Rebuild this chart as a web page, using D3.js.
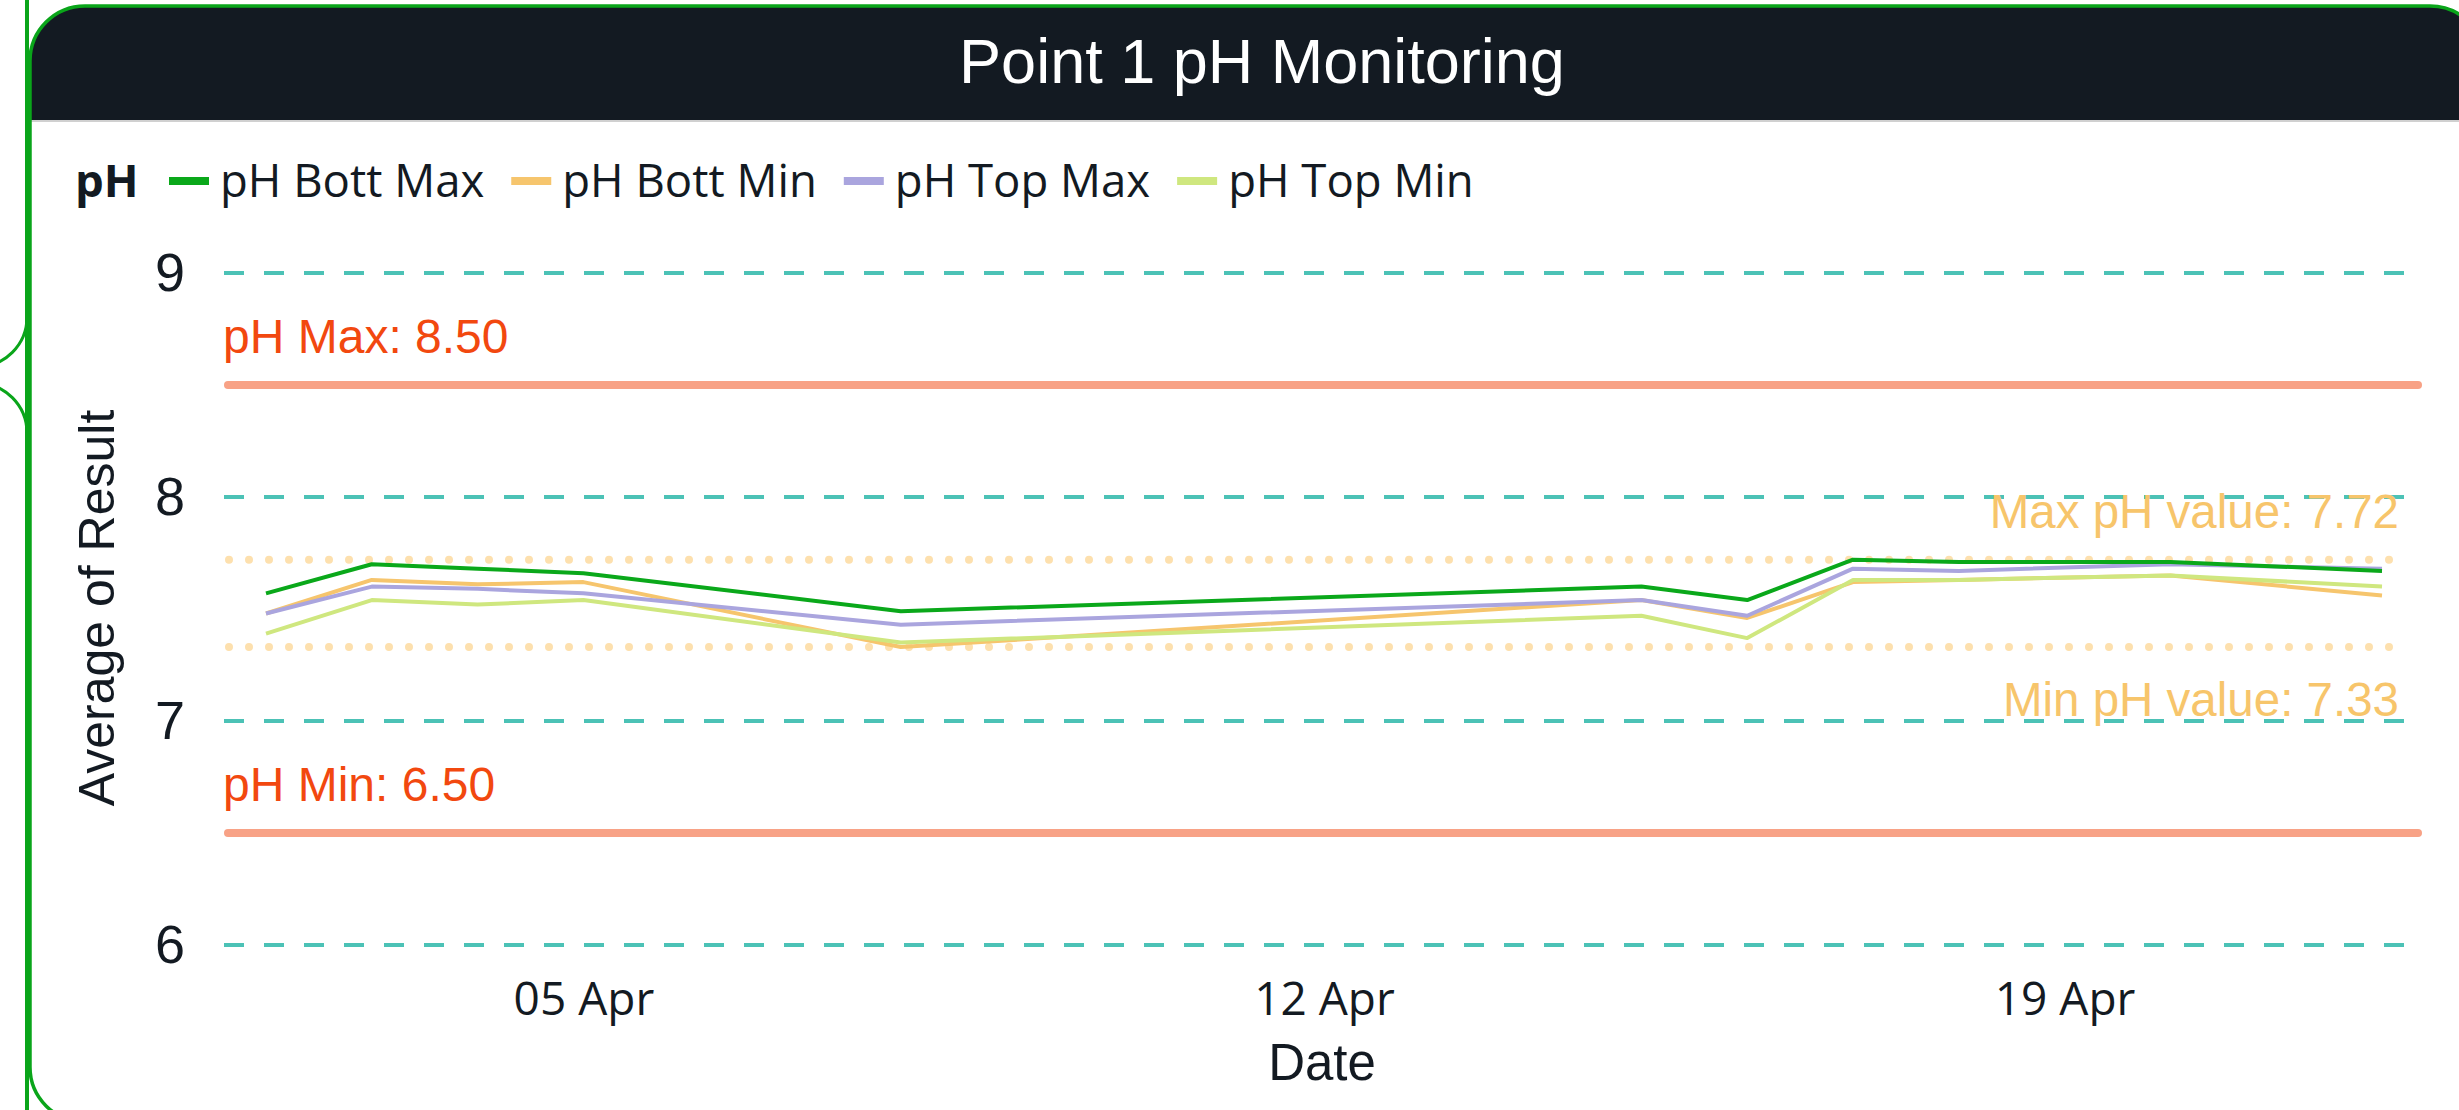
<!DOCTYPE html>
<html>
<head>
<meta charset="utf-8">
<script src="https://cdn.jsdelivr.net/npm/d3@7"></script>
<style>
  body { margin: 0; background: #fff; }
  svg { display: block; }
</style>
</head>
<body>
<script>
// sample dates
var dates = ['2024-04-02', '2024-04-03', '2024-04-04', '2024-04-05', '2024-04-08',
    '2024-04-15', '2024-04-16', '2024-04-17', '2024-04-18', '2024-04-20', '2024-04-22'];
// average of result per series
var bottMax = [7.57, 7.70, 7.68, 7.66, 7.49, 7.60, 7.54, 7.72, 7.71, 7.71, 7.67];
var bottMin = [7.48, 7.63, 7.61, 7.62, 7.33, 7.54, 7.46, 7.62, 7.63, 7.65, 7.56];
var topMax = [7.48, 7.60, 7.59, 7.57, 7.43, 7.54, 7.47, 7.68, 7.67, 7.70, 7.68];
var topMin = [7.39, 7.54, 7.52, 7.54, 7.35, 7.47, 7.37, 7.63, 7.63, 7.65, 7.60];

var seriesNames = ['pH Bott Max', 'pH Bott Min', 'pH Top Max', 'pH Top Min'];
var seriesColors = ['#0aa81a', '#f6c56d', '#aaa5de', '#cfe77f'];

var yTicks = [6, 7, 8, 9];
var xTicks = ['2024-04-05', '2024-04-12', '2024-04-19'];

// limits and observed extremes
var limitValues = [8.5, 6.5];
var limitLabels = ['pH Max: 8.50', 'pH Min: 6.50'];
var maxValue = 7.72;
var minValue = 7.33;

var svgWidth = 2459;
var svgHeight = 1110;
var plotLeft = 224;
var plotRight = 2405;
var green = '#0aa51a';

var parseDate = d3.timeParse('%Y-%m-%d');

var svg = d3.select('body').append('svg')
    .attr('width', svgWidth)
    .attr('height', svgHeight);

// neighbouring card edges on the left
svg.append('line')
    .attr('x1', 27).attr('x2', 27)
    .attr('y1', 0).attr('y2', svgHeight)
    .attr('stroke', green)
    .attr('stroke-width', 4);
svg.append('path')
    .attr('d', 'M27,317 A50,50 0 0 1 -23,367 M-23,383 A50,50 0 0 1 27,433')
    .attr('fill', 'none')
    .attr('stroke', green)
    .attr('stroke-width', 3);

// card + title bar
svg.append('rect')
    .attr('x', 30).attr('y', 6)
    .attr('width', 2455).attr('height', 1116)
    .attr('rx', 55)
    .attr('fill', '#fff');
svg.append('path')
    .attr('d', 'M30,120 V61 A55,55 0 0 1 85,6 H2430 A55,55 0 0 1 2485,61 V120 Z')
    .attr('fill', '#131a22');
svg.append('line')
    .attr('x1', 30).attr('x2', 2485)
    .attr('y1', 121).attr('y2', 121)
    .attr('stroke', '#d0d0d0')
    .attr('stroke-width', 2);
svg.append('rect')
    .attr('x', 30).attr('y', 6)
    .attr('width', 2455).attr('height', 1116)
    .attr('rx', 55)
    .attr('fill', 'none')
    .attr('stroke', green)
    .attr('stroke-width', 3.5);

svg.append('text')
    .attr('x', 1262)
    .attr('y', 83)
    .attr('text-anchor', 'middle')
    .attr('fill', '#fff')
    .style('font-family', 'Liberation Sans, Arial, sans-serif')
    .style('font-size', '63px')
    .text('Point 1 pH Monitoring');

// legend
var legend = svg.append('g')
    .style('font-family', 'Open Sans, sans-serif')
    .style('font-size', '45.5px')
    .attr('fill', '#131a22');
legend.append('text')
    .attr('x', 75).attr('y', 197)
    .style('font-weight', 'bold')
    .text('pH');
var lx = 169;
seriesNames.forEach(function(name, i) {
    legend.append('rect')
        .attr('x', lx).attr('y', 177)
        .attr('width', 40).attr('height', 8)
        .attr('fill', seriesColors[i]);
    var t = legend.append('text')
        .attr('x', lx + 51).attr('y', 197)
        .text(name);
    lx = lx + 51 + t.node().getComputedTextLength() + 27;
});

var xScale = d3.scaleTime()
    .domain([parseDate('2024-04-02'), parseDate('2024-04-22')])
    .range([266, 2382]);

var yScale = d3.scaleLinear()
    .domain([6, 9])
    .range([945, 273]);

// dashed gridlines
svg.append('g').selectAll('line')
    .data(yTicks)
    .enter()
    .append('line')
    .attr('x1', plotLeft).attr('x2', plotRight)
    .attr('y1', function(d) { return yScale(d); })
    .attr('y2', function(d) { return yScale(d); })
    .attr('stroke', '#4cc2b6')
    .attr('stroke-width', 4)
    .attr('stroke-dasharray', '20 20');

// y axis
var yAxis = d3.axisLeft(yScale)
    .tickValues(yTicks)
    .tickFormat(d3.format('d'))
    .tickSize(0)
    .tickPadding(39);
var yg = svg.append('g')
    .attr('transform', 'translate(' + plotLeft + ',0)')
    .call(yAxis);
yg.select('.domain').remove();
yg.selectAll('text')
    .attr('fill', '#131a22')
    .style('font-family', 'Liberation Sans, Arial, sans-serif')
    .style('font-size', '54px');

// x axis
var xAxis = d3.axisBottom(xScale)
    .tickValues(xTicks.map(parseDate))
    .tickFormat(d3.timeFormat('%d %b'))
    .tickSize(0)
    .tickPadding(37);
var xg = svg.append('g')
    .attr('transform', 'translate(0,' + yScale(6) + ')')
    .call(xAxis);
xg.select('.domain').remove();
xg.selectAll('text')
    .attr('fill', '#131a22')
    .style('font-family', 'Open Sans, sans-serif')
    .style('font-size', '46px');

svg.append('text')
    .attr('x', 1322)
    .attr('y', 1080)
    .attr('text-anchor', 'middle')
    .attr('fill', '#131a22')
    .style('font-family', 'Liberation Sans, Arial, sans-serif')
    .style('font-size', '51px')
    .text('Date');

svg.append('text')
    .attr('transform', 'translate(114,608) rotate(-90)')
    .attr('text-anchor', 'middle')
    .attr('fill', '#131a22')
    .style('font-family', 'Liberation Sans, Arial, sans-serif')
    .style('font-size', '50px')
    .text('Average of Result');

// pH limits
svg.append('g').selectAll('line')
    .data(limitValues)
    .enter()
    .append('line')
    .attr('x1', 228).attr('x2', 2418)
    .attr('y1', function(d) { return yScale(d); })
    .attr('y2', function(d) { return yScale(d); })
    .attr('stroke', '#f8a286')
    .attr('stroke-width', 8)
    .attr('stroke-linecap', 'round');
svg.append('g').selectAll('text')
    .data(limitValues)
    .enter()
    .append('text')
    .attr('x', 223)
    .attr('y', function(d) { return yScale(d) - 32; })
    .attr('fill', '#f2480f')
    .style('font-family', 'Liberation Sans, Arial, sans-serif')
    .style('font-size', '48px')
    .text(function(d, i) { return limitLabels[i]; });

// observed max / min
var extremes = [maxValue, minValue];
svg.append('g').selectAll('line')
    .data(extremes)
    .enter()
    .append('line')
    .attr('x1', 229).attr('x2', plotRight)
    .attr('y1', function(d) { return yScale(d); })
    .attr('y2', function(d) { return yScale(d); })
    .attr('stroke', '#fde0ae')
    .attr('stroke-width', 8)
    .attr('stroke-linecap', 'round')
    .attr('stroke-dasharray', '0 20');
svg.append('g').selectAll('text')
    .data(extremes)
    .enter()
    .append('text')
    .attr('x', 2399)
    .attr('y', function(d, i) { return i == 0 ? yScale(d) - 32 : yScale(d) + 69; })
    .attr('text-anchor', 'end')
    .attr('fill', '#f7c56b')
    .style('font-family', 'Liberation Sans, Arial, sans-serif')
    .style('font-size', '47.5px')
    .text(function(d, i) { return (i == 0 ? 'Max pH value: ' : 'Min pH value: ') + d.toFixed(2); });

// series lines
var allSeries = [bottMax, bottMin, topMax, topMin];
var drawOrder = [1, 3, 2, 0];

var line = d3.line()
    .x(function(d, i) { return xScale(parseDate(dates[i])); })
    .y(function(d) { return yScale(d); });

drawOrder.forEach(function(k) {
    svg.append('path')
        .datum(allSeries[k])
        .attr('d', line)
        .attr('fill', 'none')
        .attr('stroke', seriesColors[k])
        .attr('stroke-width', 4)
        .attr('stroke-linejoin', 'round');
});
</script>
</body>
</html>
